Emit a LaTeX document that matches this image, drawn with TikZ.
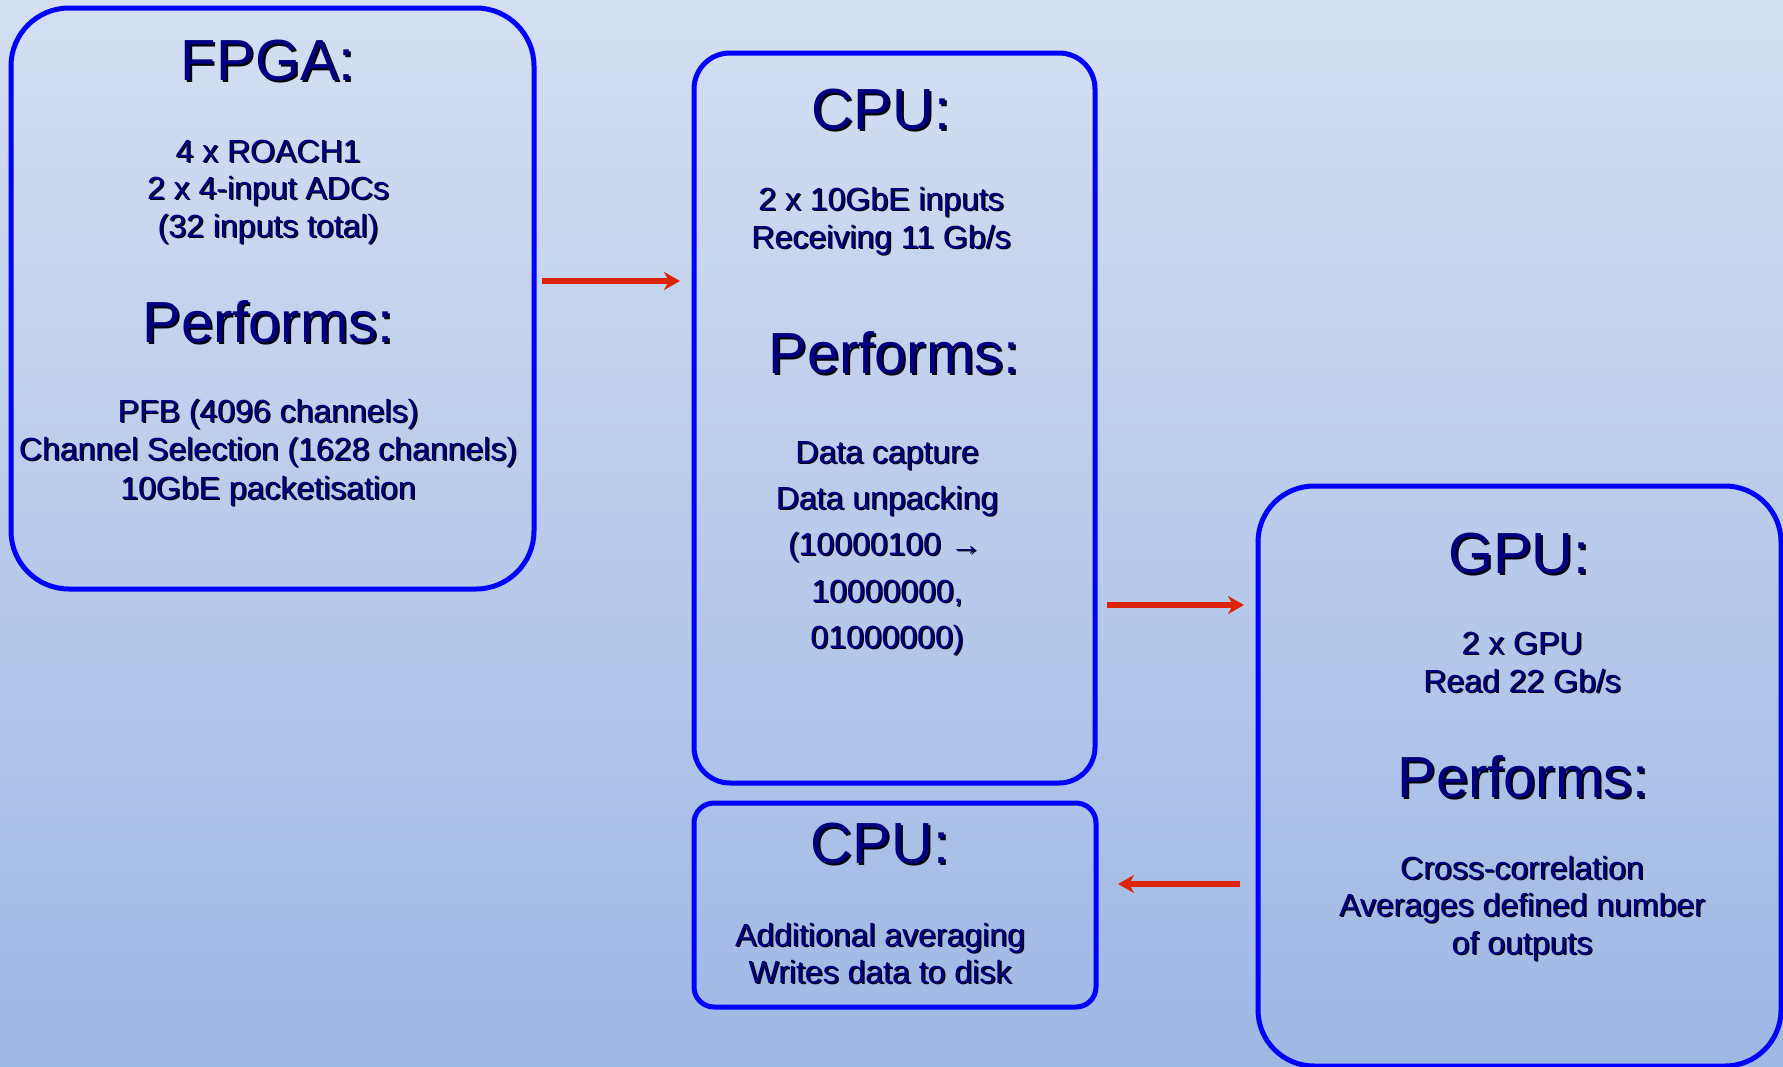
\documentclass[tikz,border=0pt]{standalone}
\usepackage{fontspec}
\setmainfont{Liberation Sans}
\usetikzlibrary{arrows.meta}

\definecolor{bgtop}{RGB}{212,223,242}
\definecolor{bgbot}{RGB}{158,184,228}
\definecolor{ink}{RGB}{0,0,128}
\definecolor{inkshade}{RGB}{0,0,0}
\definecolor{flowred}{RGB}{221,36,8}
\definecolor{framebl}{RGB}{0,0,255}

% text with a dark drop shadow below and to the right
\newcommand\shadowtext[2]{\leavevmode\rlap{\kern#1\raisebox{-#1}{\color{inkshade}#2}}#2}
\newcommand\ttl[1]{\shadowtext{2pt}{#1}}
\newcommand\txt[1]{\shadowtext{1.5pt}{#1}}

\tikzset{
  unitbox/.style={draw=framebl, line width=5pt, rectangle, inner sep=0pt, outer sep=0pt},
  heading/.style={anchor=base, text=ink, inner sep=0pt, font=\fontsize{58}{60}\selectfont},
  body/.style={anchor=base, text=ink, inner sep=0pt, font=\fontsize{32}{36}\selectfont},
  flow/.style={draw=flowred, line width=5.5pt, -{Stealth[length=16pt,width=18pt,inset=5pt]}},
}

\begin{document}
\begin{tikzpicture}[x=1pt,y=-1pt]
% backdrop
\shade[top color=bgtop, bottom color=bgbot] (0,0) rectangle (1783,1066);
\useasboundingbox (0,0) rectangle (1783,1066);

% processing stages
\node[unitbox, rounded corners=58pt, minimum width=523pt, minimum height=581pt] (fpga) at (272.5,298.5) {};
\node[unitbox, rounded corners=36pt, minimum width=401pt, minimum height=730pt] (cpu) at (894.5,418) {};
\node[unitbox, rounded corners=20pt, minimum width=402pt, minimum height=204pt] (cpub) at (895,905) {};
\node[unitbox, rounded corners=56pt, minimum width=523pt, minimum height=580pt] (gpu) at (1519.5,776) {};

% FPGA stage
\node[heading] (fpgaT) at (268,80) {\ttl{FPGA:}};
\node[body] (fpgaL1) at (268,162) {\txt{4 x ROACH1}};
\node[body] (fpgaL2) at (268,199) {\txt{2 x 4-input ADCs}};
\node[body] (fpgaL3) at (268,237) {\txt{(32 inputs total)}};
\node[heading] (fpgaP) at (268,342) {\ttl{Performs:}};
\node[body] (fpgaL4) at (268,422) {\txt{PFB (4096 channels)}};
\node[body] (fpgaL5) at (268,460) {\txt{Channel Selection (1628 channels)}};
\node[body] (fpgaL6) at (268,499) {\txt{10GbE packetisation}};

% CPU capture stage
\node[heading] (cpuT) at (881,129) {\ttl{CPU:}};
\node[body] (cpuL1) at (881,210) {\txt{2 x 10GbE inputs}};
\node[body] (cpuL2) at (881,248) {\txt{Receiving 11 Gb/s}};
\node[heading] (cpuP) at (894,373) {\ttl{Performs:}};
\node[body] (cpuL3) at (887,463) {\txt{Data capture}};
\node[body] (cpuL4) at (887,509) {\txt{Data unpacking}};
\node[body] (cpuL5) at (885,555) {\txt{(10000100 →}};
\node[body] (cpuL6) at (887,602) {\txt{10000000,}};
\node[body] (cpuL7) at (887,648) {\txt{01000000)}};

% CPU output stage
\node[heading] (cpubT) at (880,863) {\ttl{CPU:}};
\node[body] (cpubL1) at (880,946) {\txt{Additional averaging}};
\node[body] (cpubL2) at (880,983) {\txt{Writes data to disk}};

% GPU stage
\node[heading] (gpuT) at (1519,573) {\ttl{GPU:}};
\node[body] (gpuL1) at (1522,654) {\txt{2 x GPU}};
\node[body] (gpuL2) at (1522,692) {\txt{Read 22 Gb/s}};
\node[heading] (gpuP) at (1523,797) {\ttl{Performs:}};
\node[body] (gpuL3) at (1522,879) {\txt{Cross-correlation}};
\node[body] (gpuL4) at (1522,916) {\txt{Averages defined number}};
\node[body] (gpuL5) at (1522,954) {\txt{of outputs}};

% data flow
\draw[flow] ([xshift=8pt,yshift=17.5pt]fpga.east) coordinate (f1)
  -- ([xshift=-14pt]cpu.west |- f1);
\draw[flow] ([xshift=12pt,yshift=-187pt]cpu.east) coordinate (f2)
  -- ([xshift=-14pt]gpu.west |- f2);
\draw[flow] ([xshift=-18pt,yshift=-108pt]gpu.west) coordinate (f3)
  -- ([xshift=22pt]cpub.east |- f3);
\end{tikzpicture}
\end{document}
